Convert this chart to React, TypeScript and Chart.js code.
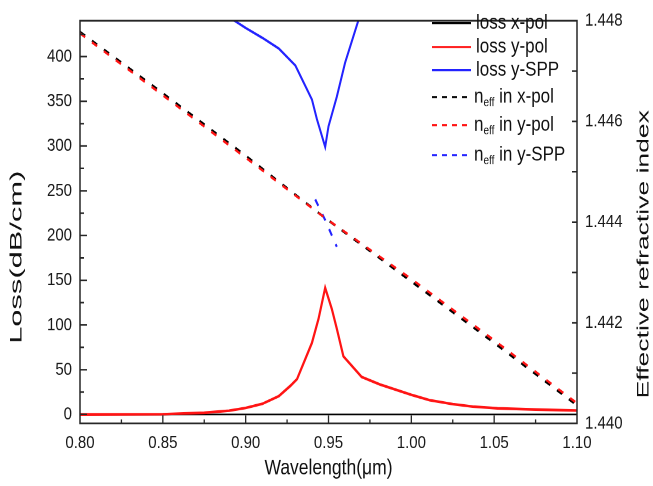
import React, { useEffect, useRef } from 'react';
import { Chart, registerables } from 'chart.js';

Chart.register(...registerables);

// ---------- data ----------
const wlLossXpol = [0.80, 0.85, 0.90, 0.95, 1.00, 1.05, 1.10];
const lossXpol = [0, 0, 0, 0, 0, 0, 0];

const wlLossYpol = [0.80, 0.85, 0.875, 0.89, 0.90, 0.91, 0.92, 0.927, 0.931, 0.94, 0.944, 0.948, 0.952, 0.955, 0.959, 0.97, 0.981, 1.00, 1.011, 1.025, 1.037, 1.052, 1.075, 1.10];
const lossYpol = [0, 0.3, 1.9, 4.2, 7.3, 11.8, 20.5, 32, 39.5, 80, 107, 141.5, 118, 96, 65, 42, 33.5, 22, 16, 11.5, 8.8, 6.9, 5.5, 4.4];

const wlLossSpp = [0.89, 0.90, 0.91, 0.92, 0.93, 0.94, 0.943, 0.948, 0.95, 0.955, 0.96, 0.97];
const lossSpp = [444, 432, 421, 409, 390, 352, 330, 299, 322, 355, 393, 452];

const wlNeff = [0.80, 0.85, 0.90, 0.948, 1.00, 1.05, 1.10];
const neffXpol = [1.44778, 1.44656, 1.44532, 1.44408, 1.44282, 1.44160, 1.44036];
const neffYpol = [1.44775, 1.44652, 1.44528, 1.44408, 1.44287, 1.44165, 1.44040];

const wlNeffSpp = [0.942, 0.948, 0.955];
const neffSpp = [1.44445, 1.44404, 1.44351];

const xTicks = [0.80, 0.85, 0.90, 0.95, 1.00, 1.05, 1.10];
const lossTicks = [0, 50, 100, 150, 200, 250, 300, 350, 400];
const neffTicks = [1.440, 1.442, 1.444, 1.446, 1.448];

const legendLabels = ['loss x-pol', 'loss y-pol', 'loss y-SPP', 'neff in x-pol', 'neff in y-pol', 'neff in y-SPP'];

// ---------- layout ----------
const W = 653;
const H = 486;
const SY = 1.22; // vertical stretch of the original figure
const LH = Math.round(H / SY);
const FONT = "'Liberation Sans', Arial, sans-serif";
const BLACK = '#000000';
const RED = 'rgb(255,20,20)';
const BLUE = 'rgb(35,35,255)';
const DASH = [6, 8];

const pts = (xs: number[], ys: number[]) => xs.map((v, i) => ({ x: v, y: ys[i] }));

const deco = {
  id: 'deco',
  afterDatasetsDraw(chart: any) {
    const { ctx, chartArea: a, scales } = chart;
    const sx = scales.x, yl = scales.y, yr = scales.y1;
    ctx.save();
    ctx.strokeStyle = '#262626';
    ctx.lineWidth = 1.5;
    ctx.strokeRect(a.left, a.top, a.right - a.left, a.bottom - a.top);
    ctx.lineWidth = 1.3;
    ctx.beginPath();
    // left axis ticks (inward)
    for (let i = 0; i < lossTicks.length; i++) {
      const p = yl.getPixelForValue(lossTicks[i]);
      ctx.moveTo(a.left, p); ctx.lineTo(a.left + 7, p);
      const mv = lossTicks[i] + (lossTicks[1] - lossTicks[0]) / 2;
      const m = yl.getPixelForValue(mv);
      if (m > a.top + 2) { ctx.moveTo(a.left, m); ctx.lineTo(a.left + 4, m); }
    }
    // right axis ticks (inward)
    for (let i = 0; i < neffTicks.length - 1; i++) {
      const v0 = neffTicks[i], v1 = neffTicks[i + 1];
      const mid = (v0 + v1) / 2;
      if (i > 0) { const p = yr.getPixelForValue(v0); ctx.moveTo(a.right, p); ctx.lineTo(a.right - 5, p); }
      const m = yr.getPixelForValue(mid); ctx.moveTo(a.right, m); ctx.lineTo(a.right - 5, m);
    }
    // bottom axis ticks (inward)
    for (let i = 0; i < xTicks.length; i++) {
      const p = sx.getPixelForValue(xTicks[i]);
      if (i > 0 && i < xTicks.length - 1) { ctx.moveTo(p, a.bottom); ctx.lineTo(p, a.bottom - 8 / SY); }
      if (i < xTicks.length - 1) {
        const m = sx.getPixelForValue((xTicks[i] + xTicks[i + 1]) / 2);
        ctx.moveTo(m, a.bottom); ctx.lineTo(m, a.bottom - 4 / SY);
      }
    }
    ctx.stroke();
    ctx.restore();
  },
  afterDraw(chart: any) {
    const { ctx, chartArea: a } = chart;
    ctx.save();
    ctx.fillStyle = '#111';
    // x title
    ctx.font = `17.5px ${FONT}`;
    ctx.textAlign = 'center';
    ctx.textBaseline = 'middle';
    ctx.fillText('Wavelength(\u03BCm)', (a.left + a.right) / 2, 468 / SY);
    // rotated titles
    const rot = (text: string, cx: number, cy: number, size: number, visLen: number) => {
      ctx.save();
      ctx.font = `${size}px ${FONT}`;
      const w = ctx.measureText(text).width;
      ctx.translate(cx, cy);
      ctx.rotate(-Math.PI / 2);
      ctx.scale(visLen / SY / w, 1);
      ctx.textAlign = 'center';
      ctx.textBaseline = 'middle';
      ctx.fillText(text, 0, 0);
      ctx.restore();
    };
    rot('Loss(dB/cm)', 17, 257 / SY, 16.5, 173);
    rot('Effective refractive index', 644, 254 / SY, 16.5, 288);

    // legend
    const rowsY = [23, 47, 70, 97, 125, 155];
    const colors = [BLACK, RED, BLUE, BLACK, RED, BLUE];
    for (let i = 0; i < legendLabels.length; i++) {
      const y = rowsY[i] / SY;
      const label = legendLabels[i];
      const dashed = label.startsWith('neff');
      ctx.save();
      ctx.strokeStyle = colors[i];
      ctx.lineWidth = 1.8;
      ctx.setLineDash(dashed ? [5, 5] : []);
      ctx.beginPath();
      ctx.moveTo(432, y); ctx.lineTo(471, y);
      ctx.stroke();
      ctx.restore();
      ctx.textAlign = 'left';
      ctx.textBaseline = 'middle';
      ctx.font = `17px ${FONT}`;
      if (dashed) {
        let x = 474;
        ctx.fillText('n', x, y);
        x += ctx.measureText('n').width;
        ctx.font = `10px ${FONT}`;
        ctx.fillText('eff', x, y + 6 / SY);
        x += ctx.measureText('eff').width;
        ctx.font = `17px ${FONT}`;
        ctx.fillText(label.slice(4), x, y);
      } else {
        ctx.fillText(label, 476, y);
      }
    }
    ctx.restore();
  },
};

export default function App() {
  const ref = useRef<HTMLCanvasElement | null>(null);
  useEffect(() => {
    if (!ref.current) return;
    const tickFont = { family: FONT, size: 15 };
    const chart = new Chart(ref.current, {
      type: 'line',
      data: {
        datasets: [
          { label: legendLabels[0], data: pts(wlLossXpol, lossXpol), yAxisID: 'y', borderColor: BLACK, borderWidth: 1.4, pointRadius: 0, order: 6 },
          { label: legendLabels[1], data: pts(wlLossYpol, lossYpol), yAxisID: 'y', borderColor: RED, borderWidth: 2.2, pointRadius: 0, order: 1 },
          { label: legendLabels[2], data: pts(wlLossSpp, lossSpp), yAxisID: 'y', borderColor: BLUE, borderWidth: 2, pointRadius: 0, order: 4 },
          { label: legendLabels[3], data: pts(wlNeff, neffXpol), yAxisID: 'y1', borderColor: BLACK, borderWidth: 2, borderDash: DASH, pointRadius: 0, order: 5 },
          { label: legendLabels[4], data: pts(wlNeff, neffYpol), yAxisID: 'y1', borderColor: RED, borderWidth: 2, borderDash: DASH, pointRadius: 0, order: 2 },
          { label: legendLabels[5], data: pts(wlNeffSpp, neffSpp), yAxisID: 'y1', borderColor: BLUE, borderWidth: 2, borderDash: DASH, pointRadius: 0, order: 3 },
        ] as any,
      },
      options: {
        responsive: false,
        animation: false,
        devicePixelRatio: 2,
        layout: { padding: { top: 15 / SY, left: 0, right: 0, bottom: 0 } },
        plugins: { legend: { display: false }, tooltip: { enabled: false } },
        elements: { line: { tension: 0, fill: false } },
        scales: {
          x: {
            type: 'linear', min: 0.8, max: 1.1,
            afterBuildTicks: (s: any) => { s.ticks = xTicks.map((v) => ({ value: v })); },
            afterFit: (s: any) => { s.height = LH - 423 / SY; },
            grid: { display: false, drawTicks: false },
            border: { display: false },
            ticks: { font: tickFont, color: '#1a1a1a', padding: 7, maxRotation: 0, autoSkip: false, callback: (v: any) => Number(v).toFixed(2) },
          },
          y: {
            type: 'linear', position: 'left', min: -10, max: 440,
            afterBuildTicks: (s: any) => { s.ticks = lossTicks.map((v) => ({ value: v })); },
            afterFit: (s: any) => { s.width = 80; },
            grid: { display: false, drawTicks: false },
            border: { display: false },
            ticks: { font: tickFont, color: '#1a1a1a', padding: 8, autoSkip: false, callback: (v: any) => String(v) },
          },
          y1: {
            type: 'linear', position: 'right', min: 1.44, max: 1.448,
            afterBuildTicks: (s: any) => { s.ticks = neffTicks.map((v) => ({ value: v })); },
            afterFit: (s: any) => { s.width = W - 577; },
            grid: { display: false, drawTicks: false },
            border: { display: false },
            ticks: { font: tickFont, color: '#1a1a1a', padding: 8, autoSkip: false, callback: (v: any) => Number(v).toFixed(3) },
          },
        },
      } as any,
      plugins: [deco],
    });
    return () => chart.destroy();
  }, []);
  return (
    <div style={{ position: 'absolute', left: 0, top: 0, width: W, height: H, background: '#fff' }}>
      <canvas ref={ref} width={W} height={LH} style={{ width: `${W}px`, height: `${H}px`, display: 'block' }} />
    </div>
  );
}
